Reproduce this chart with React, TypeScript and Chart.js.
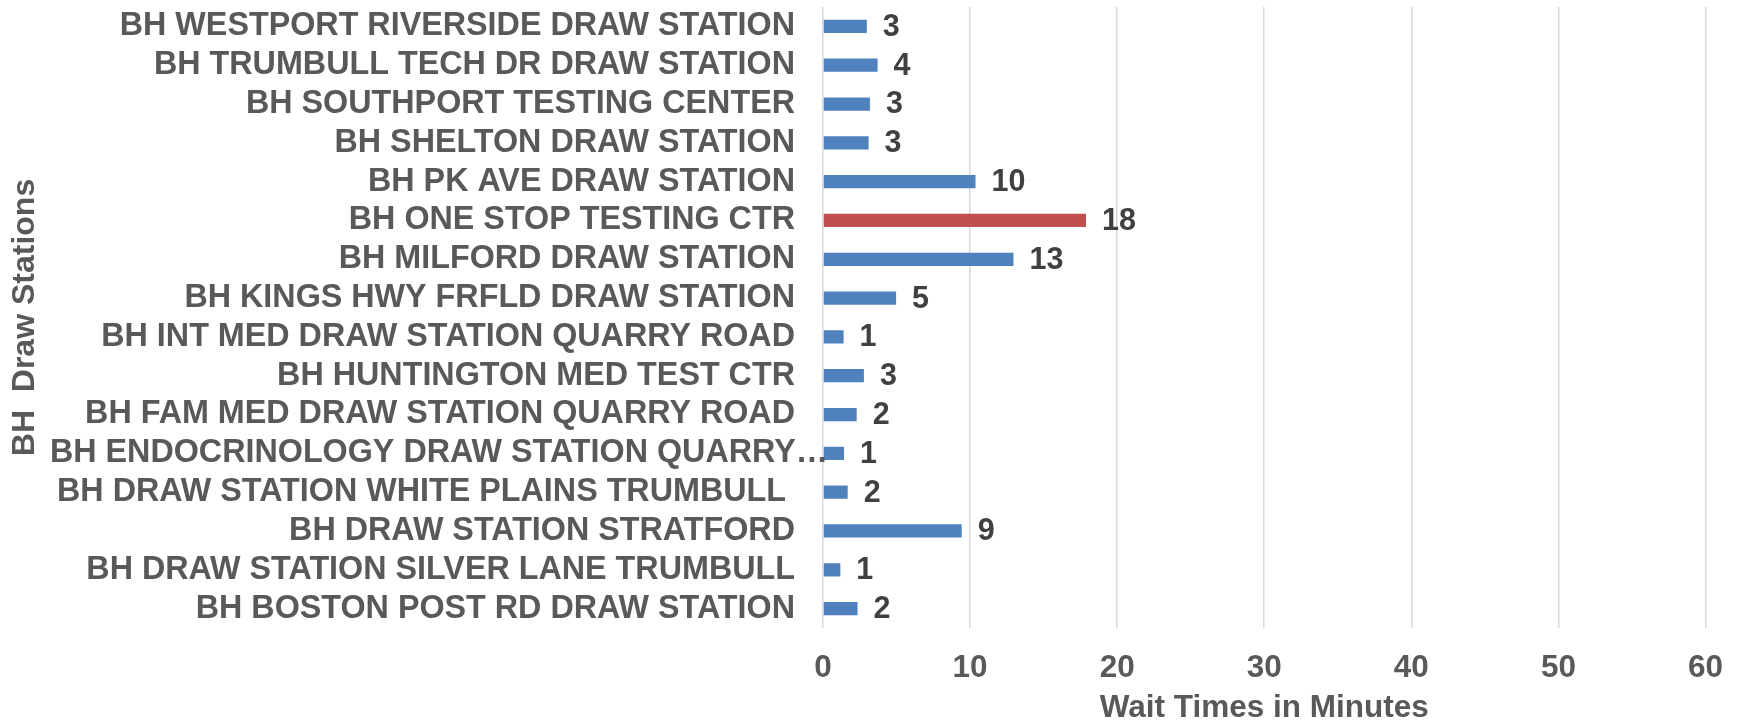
import React, { useEffect, useRef } from "react";
import { Chart, registerables } from "chart.js";

Chart.register(...registerables);

const stations: string[] = [
  "BH WESTPORT RIVERSIDE DRAW STATION",
  "BH TRUMBULL TECH DR DRAW STATION",
  "BH SOUTHPORT TESTING CENTER",
  "BH SHELTON DRAW STATION",
  "BH PK AVE DRAW STATION",
  "BH ONE STOP TESTING CTR",
  "BH MILFORD DRAW STATION",
  "BH KINGS HWY FRFLD DRAW STATION",
  "BH INT MED DRAW STATION QUARRY ROAD",
  "BH HUNTINGTON MED TEST CTR",
  "BH FAM MED DRAW STATION QUARRY ROAD",
  "BH ENDOCRINOLOGY DRAW STATION QUARRY…",
  "BH DRAW STATION WHITE PLAINS TRUMBULL ",
  "BH DRAW STATION STRATFORD",
  "BH DRAW STATION SILVER LANE TRUMBULL",
  "BH BOSTON POST RD DRAW STATION",
];

const waitMinutes: number[] = [
  2.98, 3.71, 3.19, 3.1, 10.37, 17.88, 12.95, 4.97, 1.4, 2.78, 2.29, 1.43, 1.68, 9.43, 1.18, 2.35,
];

const highlightStation = "BH ONE STOP TESTING CTR";
const xTickValues: number[] = [0, 10, 20, 30, 40, 50, 60];

const FONT = "'Liberation Sans', Arial, Helvetica, sans-serif";
const BLUE = "#4f81bd";
const RED = "#c0504d";
const TEXT = "#595959";
const LABEL = "#404040";
const CAT_FONT_SIZE = 32.3;

const overflowIndex = stations.findIndex((s) => s.endsWith("…"));

const valueLabelPlugin = {
  id: "valueLabelPlugin",
  afterDatasetsDraw(chart: any) {
    const ctx = chart.ctx;
    const meta = chart.getDatasetMeta(0);
    ctx.save();
    ctx.font = `bold 30.5px ${FONT}`;
    ctx.fillStyle = LABEL;
    ctx.textAlign = "left";
    ctx.textBaseline = "middle";
    meta.data.forEach((bar: any, i: number) => {
      ctx.fillText(String(Math.round(waitMinutes[i])), bar.x + 16, bar.y + 1);
    });
    if (overflowIndex >= 0) {
      const yScale = chart.scales.y;
      ctx.font = `bold ${CAT_FONT_SIZE}px ${FONT}`;
      ctx.fillStyle = TEXT;
      ctx.textAlign = "right";
      ctx.fillText(stations[overflowIndex], chart.chartArea.left + 5, yScale.getPixelForValue(overflowIndex));
    }
    ctx.restore();
  },
};

export default function App() {
  const canvasRef = useRef<HTMLCanvasElement | null>(null);

  useEffect(() => {
    if (!canvasRef.current) return;
    Chart.defaults.font.family = FONT;
    const chart = new Chart(canvasRef.current, {
      type: "bar",
      data: {
        labels: stations,
        datasets: [
          {
            data: waitMinutes,
            backgroundColor: stations.map((s) => (s === highlightStation ? RED : BLUE)),
            borderWidth: 0,
            categoryPercentage: 0.342,
            barPercentage: 1,
          },
        ],
      },
      options: {
        indexAxis: "y",
        responsive: false,
        animation: false,
        devicePixelRatio: 1,
        layout: { padding: { left: 9, right: 33, top: 7, bottom: 0 } },
        plugins: {
          legend: { display: false },
          tooltip: { enabled: false },
        },
        scales: {
          x: {
            type: "linear",
            min: 0,
            max: 60,
            afterBuildTicks: (scale: any) => {
              scale.ticks = xTickValues.map((v) => ({ value: v }));
            },
            afterFit: (scale: any) => {
              scale.height = 96;
              scale.paddingLeft = 0;
            },
            grid: { color: "#d9d9d9", lineWidth: 1.5, drawTicks: false },
            border: { display: false },
            ticks: {
              padding: 21,
              color: TEXT,
              font: { size: 31.5, weight: "bold", family: FONT },
              maxRotation: 0,
            },
            title: {
              display: true,
              text: "Wait Times in Minutes",
              color: TEXT,
              font: { size: 31.5, weight: "bold", family: FONT, lineHeight: 1 },
              padding: { top: 7, bottom: 0 },
            },
          },
          y: {
            type: "category",
            grid: { display: false, drawTicks: false },
            border: { display: false },
            afterFit: (scale: any) => {
              scale.width = 814;
              scale.paddingTop = 0;
              scale.paddingBottom = 0;
            },
            ticks: {
              padding: 28,
              autoSkip: false,
              color: (c: any) => (c.index === overflowIndex ? "rgba(0,0,0,0)" : TEXT),
              font: { size: CAT_FONT_SIZE, weight: "bold", family: FONT },
            },
            title: {
              display: true,
              text: "BH  Draw Stations",
              color: TEXT,
              font: { size: 32, weight: "bold", family: FONT, lineHeight: 1 },
              padding: 0,
            },
          },
        },
      },
      plugins: [valueLabelPlugin],
    } as any);
    return () => chart.destroy();
  }, []);

  return (
    <div style={{ position: "fixed", left: 0, top: 0, width: 1744, height: 724, background: "#fff" }}>
      <canvas ref={canvasRef} width={1744} height={724} style={{ display: "block" }} />
    </div>
  );
}
